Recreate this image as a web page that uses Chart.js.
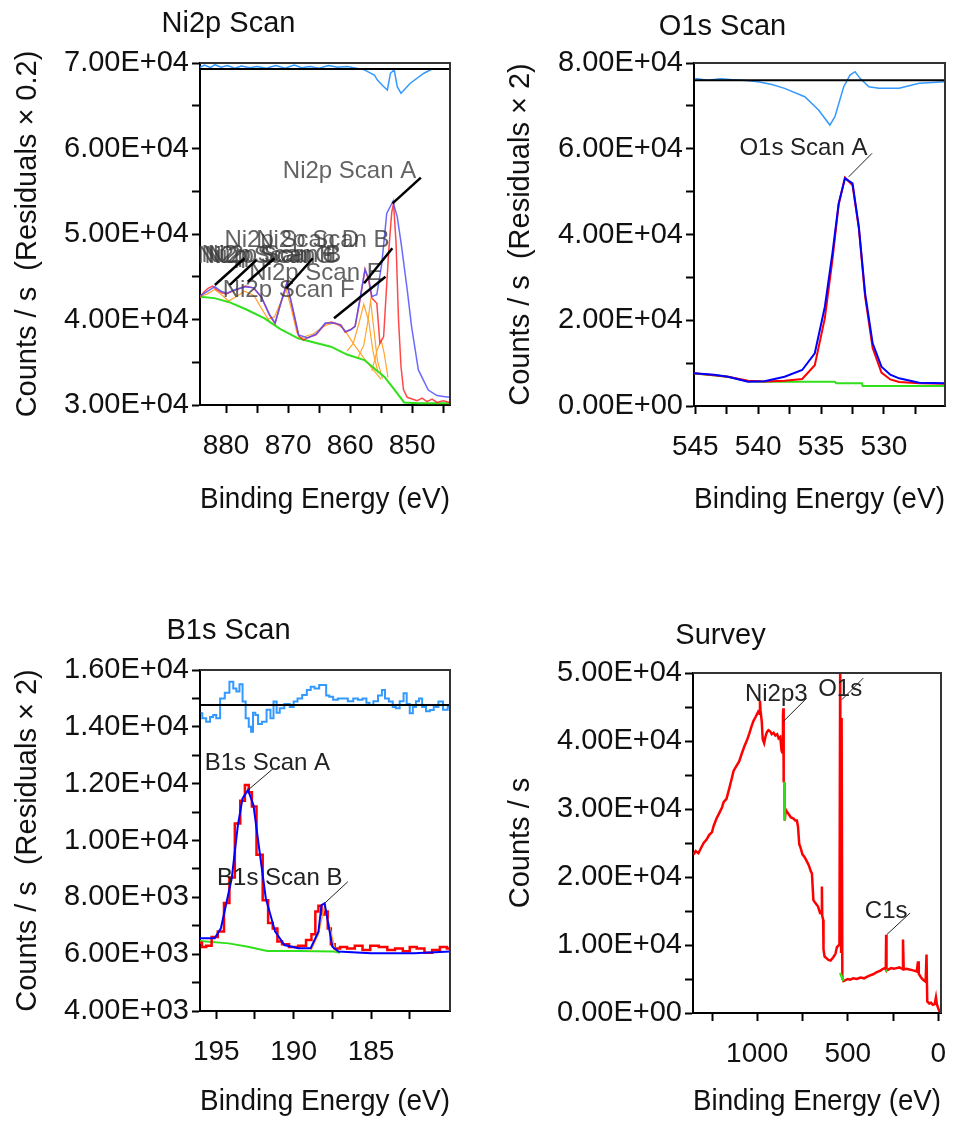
<!DOCTYPE html>
<html>
<head>
<meta charset="utf-8">
<script src="https://cdn.jsdelivr.net/npm/chart.js@4.4.1/dist/chart.umd.min.js"></script>
<style>
  body { margin: 0; background: #fff; width: 959px; height: 1122px; position: relative; overflow: hidden; }
  .panel { position: absolute; }
</style>
</head>
<body>
<div class="panel" style="left:7px;top:0px"><canvas id="ni" width="463" height="520"></canvas></div>
<div class="panel" style="left:500px;top:0px"><canvas id="o1s" width="459" height="520"></canvas></div>
<div class="panel" style="left:7px;top:600px"><canvas id="b1s" width="463" height="522"></canvas></div>
<div class="panel" style="left:500px;top:600px"><canvas id="survey" width="459" height="522"></canvas></div>
<script>
// values: [binding energy (eV), counts/s]

// ---- Ni2p ----
const ni_fit = [[884.2,42750],[883.0,43300],[881.8,43840],[880.8,43300],[879.9,43070],[878.5,43500],[876.9,43840],[875.5,43700],[874.3,42600],[873.0,40600],[872.1,39600],[871.2,41800],[870.2,44200],[869.3,41500],[868.3,38200],[866.8,37850],[865.5,38300],[864.0,39600],[862.4,39600],[861.5,39300],[860.8,38600],[859.9,38800],[859.2,39200],[858.4,42500],[857.6,45800],[857.0,44800],[856.5,42700],[855.7,42900],[854.9,46500],[854.1,52400],[853.1,53800],[852.4,52000],[851.7,48500],[850.8,43500],[850.1,39200],[849.0,34100],[847.4,31750],[846.0,31100],[844.7,30970],[843.9,30900]];
const ni_data = [[884.2,42600],[883.6,43200],[882.9,43650],[882.2,43900],[881.5,43500],[880.6,43100],[879.9,43000],[879.0,43300],[877.9,43600],[876.9,43900],[875.6,43700],[874.3,42600],[873.0,40500],[872.1,39500],[871.2,41900],[870.2,44300],[869.3,41300],[868.3,38100],[867.5,37600],[866.8,37900],[865.5,38200],[864.0,39500],[863.0,39700],[862.4,39500],[861.5,39400],[860.8,38500],[860.0,38800],[859.2,39200],[858.4,42300],[857.6,45900],[857.0,44500],[856.5,42500],[855.7,41900],[855.2,37200],[854.6,38000],[853.8,47750],[853.3,52500],[853.0,53600],[852.6,49000],[852.2,40000],[851.8,34500],[851.4,31800],[850.8,30900],[850.0,30700],[849.2,30500],[848.4,30800],[847.6,30400],[846.8,30700],[846.0,30300],[845.0,30500],[843.9,30300]];
const ni_bg = [[884.2,42670],[881.9,42500],[879.4,42000],[876.8,41200],[873.8,40140],[871.3,38900],[868.4,37800],[865.8,37300],[863.1,36820],[860.5,35900],[857.7,35260],[856.0,34200],[854.5,33310],[853.3,32200],[852.4,31370],[851.3,30300],[849.0,30200],[843.9,30200]];
const ni_c1 = [[868.5,37750],[866.0,38300],[864.0,39300],[862.5,39600],[861.0,38900],[859.5,37200],[858.0,35700],[856.5,34300],[855.0,33000]];
const ni_c2 = [[860.5,36300],[859.5,37200],[858.6,39500],[857.8,41800],[857.0,39800],[856.3,36200],[855.5,33800]];
const ni_c3 = [[858.8,35400],[857.8,37000],[857.2,39500],[856.7,42200],[856.2,39000],[855.6,35200],[854.8,33100]];
const ni_c4 = [[856.5,34000],[855.6,36500],[855.0,37600],[854.5,36000],[853.9,33200]];
const ni_c5 = [[873.5,40000],[872.2,40300],[871.2,42000],[870.3,43500],[869.4,41000],[868.6,38500],[867.8,37600]];
const ni_c6 = [[880.0,42000],[878.5,42600],[877.0,43300],[875.5,42800],[874.3,41300],[873.0,39800]];
const ni_c7 = [[884.2,42700],[883.0,43000],[881.8,43500],[880.6,42800],[879.5,42100]];
const ni_res = [[884.2,69500],[883.5,69750],[882.5,69450],[881.8,69800],[880.8,69500],[879.8,69700],[878.6,69400],[877.5,69650],[876.2,69450],[875.0,69600],[873.5,69400],[872.0,69700],[870.5,69400],[869.0,69750],[867.8,69450],[866.5,69600],[865.0,69400],[863.5,69700],[862.0,69500],[860.5,69600],[859.0,69400],[857.7,69200],[856.1,68600],[855.6,68000],[854.7,67300],[854.0,66840],[853.5,68800],[852.9,69200],[852.4,67230],[851.8,66460],[850.3,67630],[848.1,68800],[847.1,69180],[846.5,69350]];
const ni_zero = [[884.2,69300],[843.9,69300]];
const ni_xticks = [845,850,855,860,865,870,875,880];
const ni_xlabels = [850,860,870,880];
const ni_yticks = [30000,35000,40000,45000,50000,55000,60000,65000,70000];
const ni_ylabels = [30000,40000,50000,60000,70000];
const ni_notes = [['Ni2p Scan A',860.1,57290],['Ni2p Scan D',869.4,49300],['Ni2p Scan B',864.4,49300],['Ni2p Scan E',865.5,45400],['Ni2p Scan F',869.9,43450],['Ni2p Scan G',873.6,47350],['Ni2p Scan H',873.1,47500],['Ni2p Scan C',872.6,47350],['Ni2p Scan B',872.2,47450]];
const ni_leaders = [[853.16,53590,848.6,56590],[857.75,44230,853.2,48330],[862.6,40140,854.3,45010],[870.3,43650,866.0,47160],[881.8,44040,877.0,47160],[879.4,44040,875.1,46960],[876.5,44420,872.2,47160]];

// ---- O1s ----
const o_fit = [[545.1,7620],[543.5,7300],[542.4,6840],[540.8,5670],[539.5,5800],[537.9,6840],[536.5,8400],[535.5,12290],[534.7,23160],[534.1,35600],[533.6,47270],[533.1,53100],[532.5,51930],[532.0,41810],[531.5,26280],[530.9,14620],[530.2,9160],[529.5,7300],[528.8,6460],[527.2,5430],[525.15,5290]];
const o_data = [[545.1,7620],[543.5,7200],[542.4,6840],[540.8,5900],[539.5,5700],[537.9,5900],[536.5,6300],[535.5,9500],[534.7,20500],[534.1,34000],[533.6,47000],[533.1,53300],[532.5,51500],[532.0,41500],[531.5,25500],[530.9,13500],[530.2,7800],[529.5,6200],[528.8,5600],[527.2,5300],[525.15,5200]];
const o_bg = [[545.1,7600],[542.4,6800],[540.8,5750],[540.0,5670],[533.9,5670],[533.8,5290],[531.75,5290],[531.7,4660],[525.15,4660]];
const o_res = [[545.0,76400],[544.0,76000],[543.0,76300],[542.0,76100],[541.0,75900],[540.0,75630],[538.9,75000],[537.9,74090],[536.3,72130],[535.2,69030],[534.3,65530],[533.9,67470],[533.2,74470],[532.7,77190],[532.3,77970],[531.9,76420],[531.2,74470],[530.4,74090],[528.8,74090],[527.2,75250],[525.15,75630]];
const o_zero = [[545.1,76000],[525.15,76000]];
const o_xticks = [527.5,530,532.5,535,537.5,540,542.5,545];
const o_xlabels = [530,535,540,545];
const o_yticks = [0,10000,20000,30000,40000,50000,60000,70000,80000];
const o_ylabels = [0,20000,40000,60000,80000];
const o_notes = [['O1s Scan A',536.4,60170]];
const o_leaders = [[532.8,53470,530.95,58930]];

// ---- B1s ----
const b_fit = [[196.05,6560],[195.1,6560],[194.7,6910],[194.0,8670],[193.6,10550],[193.3,11480],[192.95,11780],[192.6,11250],[192.2,9610],[191.8,7970],[191.2,6800],[190.6,6320],[189.7,6210],[188.9,6210],[188.4,6790],[188.2,7730],[188.0,7790],[187.75,7030],[187.5,6260],[187.1,6090],[185.0,6030],[182.2,6030],[179.9,6090]];
const b_data = [[196.05,6400],[195.8,6250],[195.5,6300],[195.1,6600],[194.7,6800],[194.3,7800],[194.0,8700],[193.6,10600],[193.3,11400],[193.0,11950],[192.8,11700],[192.6,11200],[192.2,9500],[191.8,7900],[191.5,7100],[191.2,6900],[190.9,6450],[190.6,6350],[190.0,6250],[189.4,6300],[189.0,6500],[188.7,6700],[188.5,7500],[188.3,7700],[188.1,7400],[187.9,7500],[187.7,6900],[187.5,6350],[187.2,6200],[186.8,6250],[186.3,6200],[185.8,6300],[185.3,6150],[184.8,6300],[184.2,6250],[183.7,6150],[183.2,6200],[182.7,6100],[182.3,6250],[181.8,6200],[181.3,6050],[180.8,6150],[180.3,6250],[179.9,6200]];
const b_bg = [[196.05,6460],[194.2,6380],[192.95,6260],[191.7,6110],[189.7,6110],[187.4,6090],[187.0,6050]];
const b_cb = [[188.9,6110],[188.4,6700],[188.0,7700],[187.6,6800],[187.3,6090]];
const b_res = [[196.0,14480],[195.8,14300],[195.5,14180],[195.3,14350],[195.1,14420],[194.9,14300],[194.6,15000],[194.3,15200],[194.0,15590],[193.8,15350],[193.6,15240],[193.4,15500],[193.2,14890],[193.0,14300],[192.8,14000],[192.7,13830],[192.55,14500],[192.4,14420],[192.2,14100],[191.9,14180],[191.6,14600],[191.4,14300],[191.2,14890],[191.0,14500],[190.8,14650],[190.4,14800],[190.1,14700],[189.9,14890],[189.6,15000],[189.3,15120],[189.0,15300],[188.8,15410],[188.5,15350],[188.2,15470],[188.0,15470],[187.8,15100],[187.6,15060],[187.3,14950],[187.0,15000],[186.7,15000],[186.3,14900],[186.0,15000],[185.7,14950],[185.4,15000],[185.2,14850],[185.0,14770],[184.7,14900],[184.4,15100],[184.2,15300],[184.0,15000],[183.7,14890],[183.5,14700],[183.3,14650],[183.0,14900],[182.8,15180],[182.6,14800],[182.4,14480],[182.2,14700],[182.0,14900],[181.8,15000],[181.6,14700],[181.3,14550],[181.1,14590],[180.8,14700],[180.5,14890],[180.2,14600],[179.9,14710]];
const b_zero = [[196.05,14770],[179.9,14770]];
const b_xticks = [182.5,185,187.5,190,192.5,195];
const b_xlabels = [185,190,195];
const b_yticks = [4000,5000,6000,7000,8000,9000,10000,11000,12000,13000,14000,15000,16000];
const b_ylabels = [4000,6000,8000,10000,12000,14000,16000];
const b_notes = [['B1s Scan A',191.7,12730],['B1s Scan B',190.9,8680]];
const b_leaders = [[192.94,11780,191.3,12540],[188.0,7790,186.5,8550]];

// ---- Survey ----
const s_counts = [[1352,23300],[1340,23800],[1325,23500],[1310,24300],[1296,25000],[1280,25500],[1265,26200],[1250,26600],[1241,27500],[1225,28600],[1210,29400],[1195,30200],[1186,31000],[1170,31500],[1155,33000],[1140,34600],[1131,35600],[1118,36200],[1100,37000],[1085,38200],[1070,39300],[1057,40100],[1045,41000],[1030,42300],[1020,43000],[1008,43600],[995,44300],[988,44000],[985,45900],[982,44500],[975,42800],[970,40300],[962,39700],[955,40600],[947,41300],[938,41600],[928,41400],[920,41000],[910,41200],[900,40800],[890,41000],[882,40400],[873,40600],[866,38600],[862,38300],[858,43800],[856,44800],[854,34000],[851,33800],[848,28300],[843,29900],[836,29600],[825,29200],[815,28800],[800,28600],[790,28300],[781,28300],[775,27400],[768,24800],[763,24500],[750,23300],[740,23000],[726,22300],[715,21700],[705,20900],[698,20500],[690,16600],[680,16200],[665,15700],[653,14700],[645,14600],[643,18600],[641,14300],[636,13700],[634,9300],[628,8300],[615,8000],[607,7800],[595,7700],[580,8200],[568,8700],[560,9700],[552,9900],[546,10100],[542,52000],[537,9000],[534,43400],[530,5200],[524,4700],[515,4800],[500,5000],[487,4900],[470,5100],[450,5000],[430,5200],[410,5100],[395,5300],[380,5500],[360,5700],[340,6000],[322,6200],[305,6500],[295,6600],[290,6400],[288,11500],[286,6300],[275,6400],[260,6600],[245,6500],[230,6600],[215,6700],[200,6500],[195,10800],[191,6400],[175,6500],[160,6400],[145,6300],[130,6200],[119,6100],[112,7600],[108,5800],[95,5200],[85,4900],[70,4600],[65,8600],[61,1700],[50,1400],[40,1500],[30,1200],[20,1300],[13,2300],[8,1300],[3,900],[-5,300],[-12,200]];
const s_bg1 = [[851,34000],[849.5,31000],[848,28300]];
const s_bg2 = [[542,5900],[524,4700]];
const s_bg3 = [[292,6300],[282,6200]];
const s_xticks = [0,250,500,750,1000,1250];
const s_xlabels = [0,500,1000];
const s_yticks = [0,5000,10000,15000,20000,25000,30000,35000,40000,45000,50000];
const s_ylabels = [0,10000,20000,30000,40000,50000];
const s_notes = [['Ni2p3',895,46810],['O1s',542,47540],['C1s',288,15000]];
const s_leaders = [[855,42900,726,46320],[533,46070,414,49260],[285,11520,156,14700]];

Chart.defaults.font.family = "'Liberation Sans', Arial, sans-serif";
Chart.defaults.color = '#111';

function fmtE(v) {
  const parts = v.toExponential(2).split('e');
  const ex = parseInt(parts[1], 10);
  return parts[0] + 'E' + (ex < 0 ? '-' : '+') + String(Math.abs(ex)).padStart(2, '0');
}

function line(pts, color, width, extra) {
  return Object.assign({
    data: pts.map(p => ({x: p[0], y: p[1]})),
    borderColor: color, borderWidth: width,
    pointRadius: 0, fill: false, tension: 0
  }, extra || {});
}

// frame round the plot box
const framePlugin = {
  id: 'frame',
  afterDraw(chart) {
    const a = chart.chartArea, ctx = chart.ctx;
    ctx.save();
    ctx.strokeStyle = '#333';
    ctx.lineWidth = 2;
    ctx.beginPath();
    ctx.moveTo(a.left, a.top); ctx.lineTo(a.right, a.top); ctx.lineTo(a.right, a.bottom);
    ctx.stroke();
    ctx.restore();
  }
};

// peak labels with leader lines, positioned in data units
const notesPlugin = {
  id: 'notes',
  afterDatasetsDraw(chart, args, o) {
    if (!o.labels) return;
    const ctx = chart.ctx, x = chart.scales.x, y = chart.scales.y;
    ctx.save();
    ctx.font = o.font;
    ctx.fillStyle = o.color;
    ctx.textAlign = 'center';
    ctx.textBaseline = 'middle';
    o.labels.forEach(t => ctx.fillText(t[0], x.getPixelForValue(t[1]), y.getPixelForValue(t[2])));
    ctx.strokeStyle = o.lineColor;
    ctx.lineWidth = o.lineWidth;
    o.leaders.forEach(l => {
      ctx.beginPath();
      ctx.moveTo(x.getPixelForValue(l[0]), y.getPixelForValue(l[1]));
      ctx.lineTo(x.getPixelForValue(l[2]), y.getPixelForValue(l[3]));
      ctx.stroke();
    });
    ctx.restore();
  }
};
Chart.register(framePlugin, notesPlugin);

function panel(id, p) {
  const grid = { drawOnChartArea: false, tickLength: 8, tickWidth: 2, tickColor: '#000' };
  const border = { color: '#000', width: 2 };
  return new Chart(document.getElementById(id), {
    type: 'line',
    data: { datasets: p.datasets },
    options: {
      responsive: false, devicePixelRatio: 1, animation: false, events: [],
      layout: { padding: { left: 0, right: p.padR, top: 0, bottom: 0 } },
      plugins: {
        legend: { display: false },
        tooltip: { enabled: false },
        title: { display: true, text: p.title, color: '#111', font: { size: 29, weight: 'normal' }, padding: p.titlePad },
        notes: p.notes
      },
      scales: {
        x: {
          type: 'linear', reverse: true, min: p.xmin, max: p.xmax,
          afterBuildTicks: s => { s.ticks = p.xticks.map(v => ({value: v})); },
          afterFit: s => { s.height = p.xh; },
          ticks: { autoSkip: false, maxRotation: 0, padding: 16, color: '#111', font: { size: 28 },
                   callback: v => p.xlabels.includes(v) ? String(v) : '' },
          grid: grid, border: border,
          title: { display: true, text: 'Binding Energy (eV)', color: '#111', font: { size: 29 }, padding: { top: 0, bottom: 3 } }
        },
        y: {
          type: 'linear', min: p.ymin, max: p.ymax,
          afterBuildTicks: s => { s.ticks = p.yticks.map(v => ({value: v})); },
          afterFit: s => { s.width = p.yw; },
          ticks: { autoSkip: false, padding: 3, color: '#111', font: { size: 29 },
                   callback: v => p.ylabels.includes(v) ? fmtE(v) : '' },
          grid: grid, border: border,
          title: { display: true, text: p.ytitle, color: '#111', font: { size: 29 }, padding: { top: 4, bottom: 0 } }
        }
      }
    }
  });
}

const RED = '#ff0000', BLUE = '#0000ff', GREEN = '#2fe01a', ORANGE = '#ffa530', RES = '#3399ff';

panel('ni', {
  title: 'Ni2p Scan', ytitle: 'Counts / s  (Residuals \u00d7 0.2)',
  padR: 20, xh: 115, yw: 193, titlePad: { top: 6.6, bottom: 21.6 },
  xmin: 843.9, xmax: 884.2, ymin: 30000, ymax: 70000,
  xticks: ni_xticks, xlabels: ni_xlabels, yticks: ni_yticks, ylabels: ni_ylabels,
  notes: { labels: ni_notes, leaders: ni_leaders, font: '24px "Liberation Sans", Arial, sans-serif', color: 'rgba(60,60,60,0.8)', lineColor: '#000', lineWidth: 2.5 },
  datasets: [
    line(ni_zero, '#000', 2),
    line(ni_res, RES, 1.5),
    line(ni_fit, 'rgba(80,80,255,0.85)', 1.5),
    line(ni_data, 'rgba(255,40,40,0.85)', 1.5),
    line(ni_bg, GREEN, 2),
    line(ni_c1, ORANGE, 1.2), line(ni_c2, ORANGE, 1.2), line(ni_c3, ORANGE, 1.2),
    line(ni_c4, ORANGE, 1.2), line(ni_c5, ORANGE, 1.2), line(ni_c6, ORANGE, 1.2), line(ni_c7, ORANGE, 1.2)
  ]
});

panel('o1s', {
  title: 'O1s Scan', ytitle: 'Counts / s  (Residuals \u00d7 2)',
  padR: 14, xh: 114, yw: 194, titlePad: { top: 9.6, bottom: 18.6 },
  xmin: 525.15, xmax: 545.1, ymin: 0, ymax: 80000,
  xticks: o_xticks, xlabels: o_xlabels, yticks: o_yticks, ylabels: o_ylabels,
  notes: { labels: o_notes, leaders: o_leaders, font: '24px "Liberation Sans", Arial, sans-serif', color: '#222', lineColor: '#222', lineWidth: 1 },
  datasets: [
    line(o_zero, '#000', 2),
    line(o_res, RES, 1.5),
    line(o_fit, BLUE, 2),
    line(o_data, RED, 2),
    line(o_bg, GREEN, 2)
  ]
});

panel('b1s', {
  title: 'B1s Scan', ytitle: 'Counts / s  (Residuals \u00d7 2)',
  padR: 20, xh: 111, yw: 193, titlePad: { top: 13.6, bottom: 21.6 },
  xmin: 179.9, xmax: 196.05, ymin: 4000, ymax: 16000,
  xticks: b_xticks, xlabels: b_xlabels, yticks: b_yticks, ylabels: b_ylabels,
  notes: { labels: b_notes, leaders: b_leaders, font: '24px "Liberation Sans", Arial, sans-serif', color: '#222', lineColor: '#222', lineWidth: 1 },
  datasets: [
    line(b_zero, '#000', 2),
    line(b_res, RES, 2, { stepped: 'middle' }),
    line(b_fit, BLUE, 2),
    line(b_cb, ORANGE, 1.5),
    line(b_data, RED, 2.5, { stepped: 'middle' }),
    line(b_bg, GREEN, 2)
  ]
});

panel('survey', {
  title: 'Survey', ytitle: 'Counts / s',
  padR: 18, xh: 109, yw: 193, titlePad: { top: 18.6, bottom: 19.6 },
  xmin: -15, xmax: 1355, ymin: 0, ymax: 50000,
  xticks: s_xticks, xlabels: s_xlabels, yticks: s_yticks, ylabels: s_ylabels,
  notes: { labels: s_notes, leaders: s_leaders, font: '24px "Liberation Sans", Arial, sans-serif', color: '#222', lineColor: '#222', lineWidth: 1 },
  datasets: [
    line(s_bg1, GREEN, 2.5), line(s_bg2, GREEN, 2.5), line(s_bg3, GREEN, 2.5),
    line(s_counts, RED, 2.5)
  ]
});
</script>
</body>
</html>
